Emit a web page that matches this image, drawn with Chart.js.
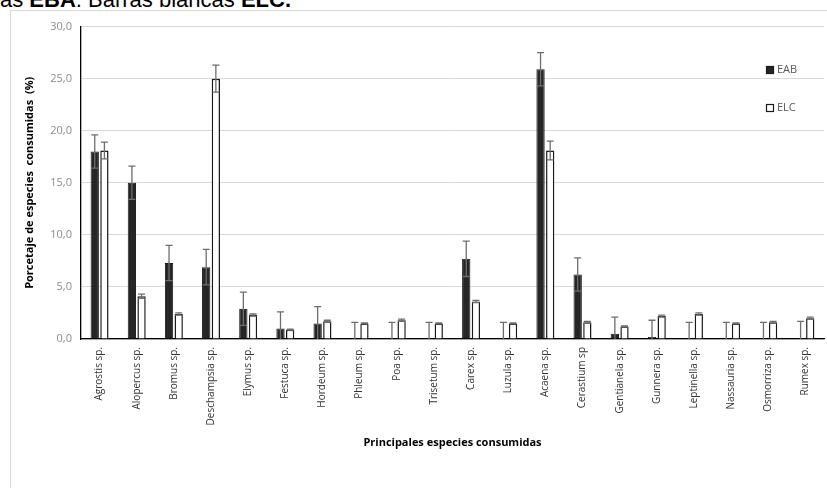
<!DOCTYPE html>
<html>
<head>
<meta charset="utf-8">
<script src="https://cdn.jsdelivr.net/npm/chart.js@4"></script>
<style>
  body { margin: 0; width: 827px; height: 488px; overflow: hidden; background: #fff; position: relative; }
  #caption { position: absolute; left: 0; top: -13px; font-family: "Liberation Sans", sans-serif; font-size: 22px; line-height: 26px; color: #000; white-space: nowrap; }
  #frame { position: absolute; left: 10px; top: 10px; width: 830px; height: 490px; border-left: 1px solid #d9d9d9; border-top: 1px solid #d9d9d9; background: #fff; }
  #wrap { position: absolute; left: 11px; top: 11px; width: 816px; height: 477px; }
</style>
</head>
<body>
<div id="caption">as <b>EBA</b>. Barras blancas <b>ELC.</b></div>
<div id="frame"></div>
<div id="wrap"><canvas id="myChart"></canvas></div>
<script>
const categories = ['Agrostis sp.', 'Alopercus sp.', 'Bromus sp.', 'Deschampsia sp.', 'Elymus sp.', 'Festuca sp.',
  'Hordeum sp.', 'Phleum sp.', 'Poa sp.', 'Trisetum sp.', 'Carex sp.', 'Luzula sp.', 'Acaena sp.', 'Cerastium sp',
  'Gentianela sp.', 'Gunnera sp.', 'Leptinella sp.', 'Nassauria sp.', 'Osmorriza sp.', 'Rumex sp.'];
const eabValues = [18.0, 15.0, 7.3, 6.9, 2.9, 1.0, 1.5, 0, 0, 0, 7.7, 0, 25.9, 6.2, 0.5, 0.2, 0, 0, 0, 0.1];
const eabErrors = [1.6, 1.6, 1.7, 1.7, 1.6, 1.6, 1.6, 1.6, 1.6, 1.6, 1.7, 1.6, 1.6, 1.6, 1.6, 1.6, 1.6, 1.6, 1.6, 1.6];
const elcValues = [18.1, 4.1, 2.4, 25.0, 2.3, 0.9, 1.7, 1.5, 1.8, 1.5, 3.6, 1.5, 18.1, 1.6, 1.2, 2.2, 2.4, 1.5, 1.6, 2.0];
const elcErrors = [0.8, 0.2, 0.1, 1.3, 0.1, 0.05, 0.1, 0.05, 0.1, 0.05, 0.1, 0.05, 0.9, 0.1, 0.05, 0.1, 0.1, 0.05, 0.1, 0.1];
const seriesNames = ['EAB', 'ELC'];

// error bars drawn on top of each bar
const errorBars = {
  id: 'errorBars',
  afterDatasetsDraw(chart) {
    const ctx = chart.ctx;
    const y = chart.scales.y;
    const errs = [eabErrors, elcErrors];
    chart.data.datasets.forEach((ds, i) => {
      const meta = chart.getDatasetMeta(i);
      meta.data.forEach((bar, j) => {
        const v = ds.data[j];
        const e = errs[i][j];
        const top = y.getPixelForValue(v + e);
        const low = v - e;
        const bot = y.getPixelForValue(Math.max(0, low));
        ctx.save();
        ctx.strokeStyle = '#6e6e6e';
        ctx.lineWidth = 1.3;
        ctx.beginPath();
        ctx.moveTo(bar.x, top);
        ctx.lineTo(bar.x, bot);
        ctx.moveTo(bar.x - 3.5, top);
        ctx.lineTo(bar.x + 3.5, top);
        if (low > 0) {
          ctx.moveTo(bar.x - 3.5, bot);
          ctx.lineTo(bar.x + 3.5, bot);
        }
        ctx.stroke();
        ctx.restore();
      });
    });
  }
};

// legend inside the plot, at the right
const sideLegend = {
  id: 'sideLegend',
  afterDraw(chart) {
    const ctx = chart.ctx;
    const x = 755, ys = [59, 97];
    ctx.save();
    ctx.font = '11px "Open Sans", sans-serif';
    ctx.textBaseline = 'middle';
    seriesNames.forEach((name, i) => {
      const ds = chart.data.datasets[i];
      ctx.fillStyle = ds.backgroundColor;
      ctx.fillRect(x, ys[i] - 4, 8, 8);
      ctx.strokeStyle = '#1a1a1a';
      ctx.lineWidth = 1.2;
      ctx.strokeRect(x + 0.5, ys[i] - 3.5, 7, 7);
      ctx.fillStyle = '#595959';
      ctx.fillText(name, x + 11, ys[i]);
    });
    ctx.restore();
  }
};

new Chart(document.getElementById('myChart'), {
  type: 'bar',
  data: {
    labels: categories,
    datasets: [
      {
        label: seriesNames[0],
        data: eabValues,
        backgroundColor: '#262626',
        borderColor: '#1a1a1a',
        borderWidth: 1,
        categoryPercentage: 0.52,
        barPercentage: 0.86,
      },
      {
        label: seriesNames[1],
        data: elcValues,
        backgroundColor: '#ffffff',
        borderColor: '#1a1a1a',
        borderWidth: 1.5,
        categoryPercentage: 0.52,
        barPercentage: 0.86,
      },
    ],
  },
  options: {
    responsive: true,
    maintainAspectRatio: false,
    animation: false,
    layout: { padding: { top: 13, right: 3, left: 0, bottom: 0 } },
    plugins: {
      legend: { display: false },
      tooltip: { enabled: false },
    },
    scales: {
      x: {
        grid: { display: false, drawTicks: false },
        border: { color: '#000', width: 1.3 },
        ticks: {
          color: '#333333',
          font: { family: '"Open Sans", sans-serif', size: 10 },
          maxRotation: 90,
          minRotation: 90,
          autoSkip: false,
          padding: 8,
        },
        title: {
          display: true,
          text: 'Principales especies consumidas',
          color: '#000',
          font: { family: '"Open Sans", sans-serif', size: 11, weight: 'bold' },
          padding: { top: 0, bottom: 39 },
        },
        afterFit(scale) { scale.height = 149; },
      },
      y: {
        min: 0,
        max: 30,
        grid: { color: '#d9d9d9', lineWidth: 1, drawTicks: false },
        border: { color: '#000', width: 1.3 },
        ticks: {
          stepSize: 5,
          color: '#8c8c8c',
          font: { family: '"Open Sans", sans-serif', size: 11 },
          padding: 9,
          callback: (v) => v.toFixed(1).replace('.', ','),
        },
        title: {
          display: true,
          text: 'Porcetaje de especies  consumidas  (%)',
          color: '#000',
          font: { family: '"Open Sans", sans-serif', size: 11, weight: 'bold' },
          padding: { top: 12, bottom: 0 },
        },
        afterFit(scale) { scale.width = 70; },
      },
    },
  },
  plugins: [errorBars, sideLegend],
});
</script>
</body>
</html>
